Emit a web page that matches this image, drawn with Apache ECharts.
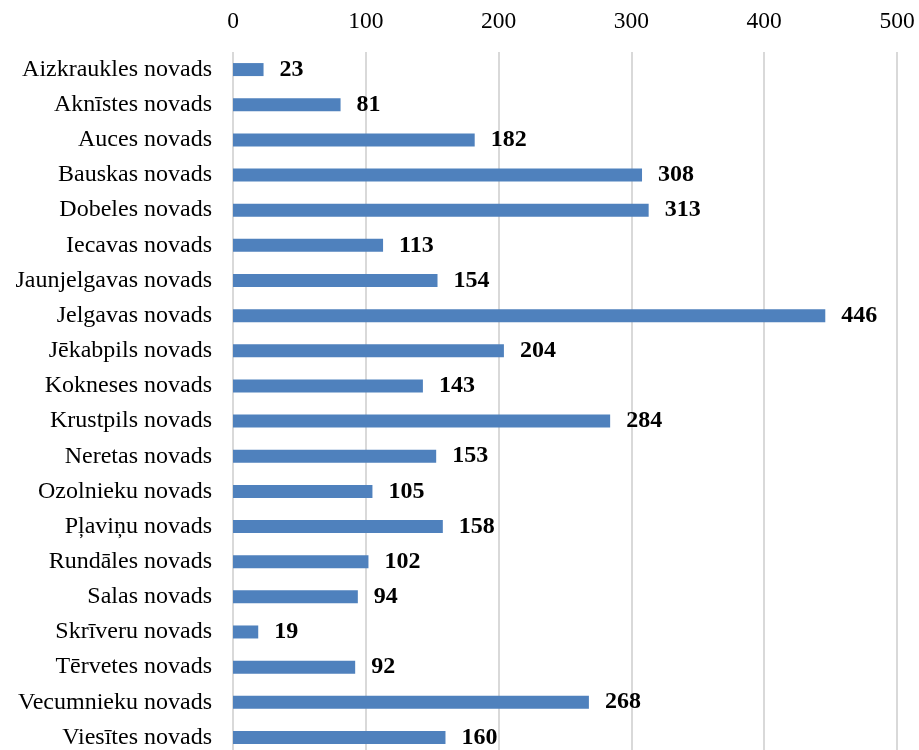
<!DOCTYPE html>
<html><head><meta charset="utf-8">
<script src="https://cdn.jsdelivr.net/npm/echarts@6/dist/echarts.min.js"></script>
<style>html,body{margin:0;padding:0;background:#fff}#c{width:919px;height:750px}</style>
</head><body><div id="c"></div>
<script>
const categories = ["Aizkraukles novads","Aknīstes novads","Auces novads","Bauskas novads","Dobeles novads","Iecavas novads","Jaunjelgavas novads","Jelgavas novads","Jēkabpils novads","Kokneses novads","Krustpils novads","Neretas novads","Ozolnieku novads","Pļaviņu novads","Rundāles novads","Salas novads","Skrīveru novads","Tērvetes novads","Vecumnieku novads","Viesītes novads"];
const values = [23,81,182,308,313,113,154,446,204,143,284,153,105,158,102,94,19,92,268,160];
const xTicks = [0,100,200,300,400,500];

const chart = echarts.init(document.getElementById('c'));
const font = '"Liberation Serif","Times New Roman",serif';
chart.setOption({
  animation:false,
  grid:{left:233,right:22,top:52,height:703,outerBoundsMode:'none',containLabel:false},
  xAxis:{type:'value',position:'top',min:xTicks[0],max:xTicks[xTicks.length-1],interval:100,
    axisLine:{show:false},axisTick:{show:false},
    axisLabel:{margin:18,fontFamily:font,fontSize:23.5,color:'#000'},
    splitLine:{lineStyle:{color:'#d9d9d9',width:2}}},
  yAxis:{type:'category',data:categories,inverse:true,
    axisLine:{show:false},axisTick:{show:false},
    axisLabel:{margin:21,fontFamily:font,fontSize:24,color:'#000'}},
  series:[{type:'bar',data:values,barWidth:13,
    itemStyle:{color:'#4f81bd'},
    label:{show:true,position:'right',distance:16,fontFamily:font,fontSize:24,fontWeight:'bold',color:'#000'}}]
});
</script></body></html>
